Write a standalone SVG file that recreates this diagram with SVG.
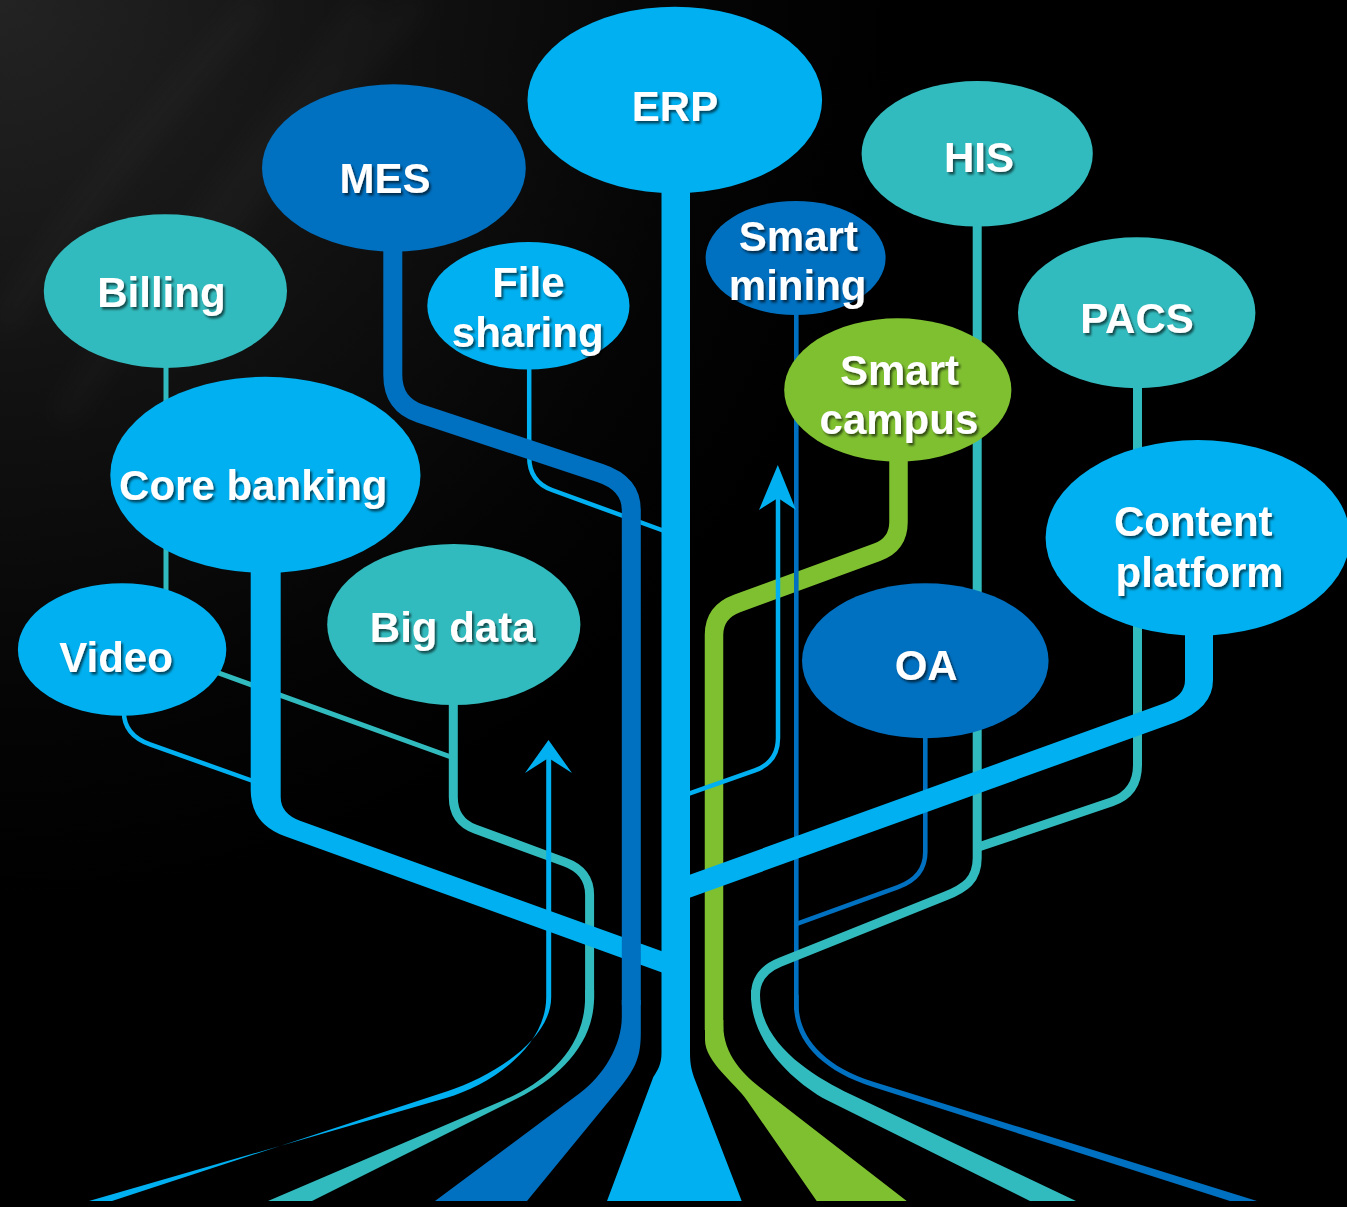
<svg xmlns="http://www.w3.org/2000/svg" width="1347" height="1207" viewBox="0 0 1347 1207">
<defs>
<radialGradient id="bg" cx="0" cy="0" r="900" gradientUnits="userSpaceOnUse">
<stop offset="0" stop-color="#232323"/>
<stop offset="0.45" stop-color="#111"/>
<stop offset="0.8" stop-color="#040404"/>
<stop offset="1" stop-color="#000"/>
</radialGradient>
<filter id="blur" x="-20%" y="-20%" width="140%" height="140%"><feGaussianBlur stdDeviation="14"/></filter>
<filter id="ts" x="-10%" y="-30%" width="130%" height="170%"><feDropShadow dx="2" dy="2.5" stdDeviation="1.2" flood-color="#000" flood-opacity="0.6"/></filter>
<style>
.lb{fill:#00B0F0}.db{fill:#0070C0}.tl{fill:#32BBBE}.gr{fill:#7FC031}
.slb{fill:none;stroke:#00B0F0}.sdb{fill:none;stroke:#0070C0}.stl{fill:none;stroke:#32BBBE}.sgr{fill:none;stroke:#7FC031}
text{font-family:"Liberation Sans",Arial,sans-serif;font-weight:bold;font-size:42px;fill:#fff;text-anchor:middle;filter:url(#ts)}
</style>
</defs>
<rect width="1347" height="1207" fill="#000"/>
<rect width="1347" height="1207" fill="url(#bg)"/>
<g opacity="0.03" filter="url(#blur)" fill="none" stroke="#fff" stroke-width="18">
<path d="M0,330 C80,200 180,90 260,0"/>
<path d="M60,420 C170,260 280,120 370,0"/>
<path d="M180,300 C260,180 340,80 420,0"/>
</g>
<g id="connectors">
<path class="sgr" stroke-width="18.5" d="M898.5,455 V522 Q898.5,544.5 877,552.3 L737,603.5 Q714,611.9 714,635 V1030"/>
<path class="gr" d="M705,1020 V1040 C705,1062 735.5,1083.4 746.7,1100 L816.7,1201 L906.7,1201 L763.3,1090 C743.5,1074.8 723.3,1055 723.3,1025 V1020 Z"/>
<path class="stl" stroke-width="9" d="M453.3,700 V797 Q453.3,821 475,829 L565,862.1 Q589.6,871 589.6,895 V1000"/>
<path class="tl" d="M585.1,990 V997 C585.1,1050 544,1083 504,1100 L268,1201 L312,1201 L518,1098 C558,1078 594.1,1045 594.1,997 V990 Z"/>
<path class="stl" stroke-width="5" d="M166,360 V640 Q166,654 180,659 L451,757"/>
<path class="slb" stroke-width="4.5" d="M123.9,700 V712 Q123.9,735 150,744.4 L253,781"/>
<path class="slb" stroke-width="4.5" d="M529.2,365 V457 Q529.2,481.6 552,490 L663,530.5"/>
<path class="sdb" stroke-width="4.6" d="M796.3,310 V1010"/>
<path class="db" d="M794,995 V1005 C794,1040 820,1070 873,1087 L1230,1201 L1257,1201 L873.3,1081.7 C822,1066 798.6,1035 798.6,1005 V995 Z"/>
<path class="sdb" stroke-width="4.6" d="M925.3,735 V852 Q925.3,877.2 898,887.1 L796,924.1"/>
<path class="stl" stroke-width="9" d="M977.2,220 V858 C977.2,880 965,888 945,896.2 L780,962.2 Q755.5,972 755.5,995 V1000"/>
<path class="tl" d="M751,990 V995 C751,1040 790,1080 826.7,1100 L1030,1201 L1076,1201 L850,1094 C815,1077 760,1045 760,995 V990 Z"/>
<path class="stl" stroke-width="9" d="M1137.5,380 V765 Q1137.5,793 1112,801.7 L977,847.6"/>
<path class="lb" d="M546.2,756 V997 C546.2,1047 491,1085 446,1098 L89,1201 L112,1201 L448,1091 C493,1076 551.2,1040 551.2,997 V756 Z"/>
<polygon class="lb" points="548.5,740 572,773 548.5,758 525,773"/>
<path class="slb" stroke-width="4.5" d="M778,498 V738 Q778,762 755,770.4 L689,793.7"/>
<polygon class="lb" points="777.8,465 796,510 778,498 759,510"/>
<path class="lb" d="M250.7,560 V790 Q250.7,823.9 285,836.3 L662,972.5 L662,951.3 L300,820.7 Q280.7,813.7 280.7,797 V560 Z"/>
<path class="sdb" stroke-width="19" d="M392.8,240 V375 Q392.8,404.5 420,413.5 L600,472.9 Q631.3,483.2 631.3,510 V1005"/>
<path class="db" d="M621.8,1000 V1017 C621.8,1045 604,1075 580,1093 L435,1201 L527,1201 L620.5,1087 C636.3,1067.7 640.8,1055 640.8,1033 V1000 Z"/>
<path class="lb" d="M1185,620 V680 Q1185,695.8 1165,703 L689,875 L689,898 L1175,722.4 Q1213,708.7 1213,680 V620 Z"/>
<path class="lb" d="M661.5,180 V1053 C661.5,1064 658,1070 653.3,1077 L607,1201 L741.7,1201 L695,1080 C692,1072 690,1065 690,1053 V180 Z"/>
</g>
<g id="node-erp"><ellipse class="lb" cx="674.8" cy="100" rx="147.3" ry="93.3"/><text x="675" y="121">ERP</text></g>
<g id="node-mes"><ellipse class="db" cx="393.9" cy="168" rx="131.9" ry="83.7"/><text x="385" y="193">MES</text></g>
<g id="node-billing"><ellipse class="tl" cx="165.4" cy="291.1" rx="121.6" ry="76.8"/><text x="161.4" y="307">Billing</text></g>
<g id="node-file-sharing"><ellipse class="lb" cx="528.4" cy="305.8" rx="101.1" ry="63.8"/><text x="528.4" y="296.5">File</text><text x="527.7" y="346.5">sharing</text></g>
<g id="node-core-banking"><ellipse class="lb" cx="265.4" cy="474.9" rx="155.1" ry="98.1"/><text x="253.3" y="500">Core banking</text></g>
<g id="node-video"><ellipse class="lb" cx="122.1" cy="649.5" rx="104.2" ry="66.2"/><text x="116" y="672.3">Video</text></g>
<g id="node-big-data"><ellipse class="tl" cx="453.8" cy="624.5" rx="126.6" ry="80.5"/><text x="452.7" y="641.7">Big data</text></g>
<g id="node-his"><ellipse class="tl" cx="977.2" cy="153.8" rx="115.6" ry="72.8"/><text x="979" y="171.5">HIS</text></g>
<g id="node-smart-mining"><ellipse class="db" cx="795.6" cy="258" rx="90" ry="57"/><text x="798.4" y="250.7">Smart</text><text x="797.7" y="300">mining</text></g>
<g id="node-pacs"><ellipse class="tl" cx="1136.7" cy="312.8" rx="118.7" ry="75.5"/><text x="1137" y="332.7">PACS</text></g>
<g id="node-smart-campus"><ellipse class="gr" cx="897.8" cy="390" rx="113.6" ry="71.7"/><text x="899.5" y="385">Smart</text><text x="898.9" y="433.5">campus</text></g>
<g id="node-content-platform"><ellipse class="lb" cx="1197.8" cy="537.8" rx="152.2" ry="97.8"/><text x="1193.3" y="536">Content</text><text x="1199.6" y="586.5">platform</text></g>
<g id="node-oa"><ellipse class="db" cx="925.3" cy="660.8" rx="123.3" ry="77.5"/><text x="926.2" y="680">OA</text></g>
</svg>
